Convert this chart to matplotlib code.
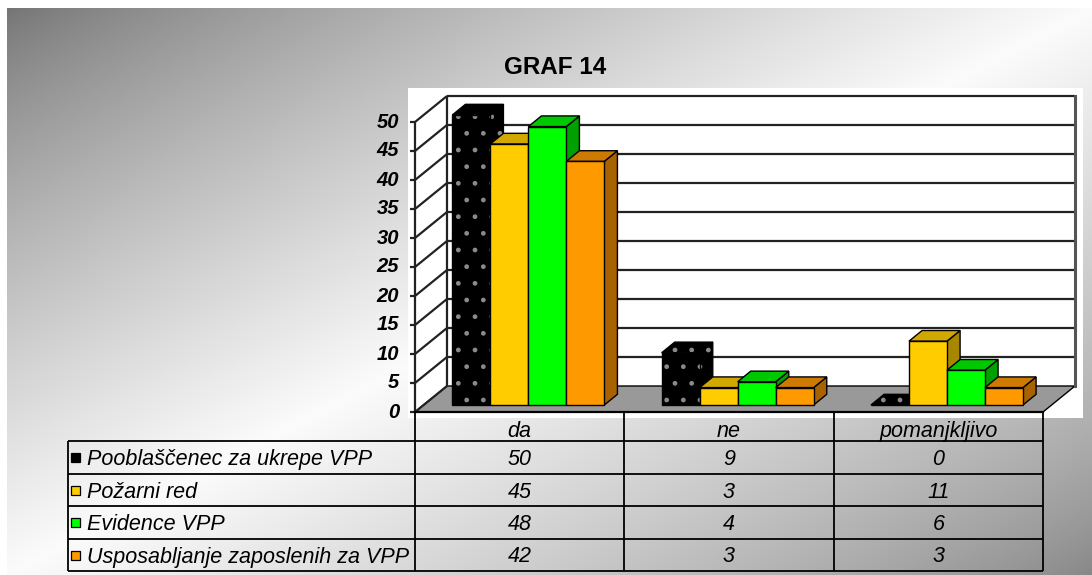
import numpy as np
import matplotlib.pyplot as plt
from matplotlib.patches import Polygon, Rectangle
from matplotlib.transforms import blended_transform_factory

plt.rcParams['font.family'] = ['Liberation Sans', 'DejaVu Sans']

# data
title = "GRAF 14"
categories = ["da", "ne", "pomanjkljivo"]
series_names = ["Pooblaščenec za ukrepe VPP", "Požarni red", "Evidence VPP",
                "Usposabljanje zaposlenih za VPP"]
pooblascenec = [50, 9, 0]
pozarni_red = [45, 3, 11]
evidence = [48, 4, 6]
usposabljanje = [42, 3, 3]
values = [pooblascenec, pozarni_red, evidence, usposabljanje]
y_ticks = list(range(0, 55, 5))

# face colours: front, top, side
front_cols = ["#000000", "#FFCC00", "#00FF00", "#FF9900"]
top_cols = ["#000000", "#D1A800", "#00C800", "#CC7A00"]
side_cols = ["#000000", "#A88700", "#00A000", "#A86200"]

W, H = 1092, 575
fig = plt.figure(figsize=(W / 100, H / 100), dpi=100)

# background layer in pixel coordinates
bg = fig.add_axes([0, 0, 1, 1])
bg.set_xlim(0, W)
bg.set_ylim(H, 0)
bg.axis("off")

gx, gy = np.meshgrid(np.linspace(0, 1, 500), np.linspace(0, 1, 300))
t = (gx + gy) / 2
shade = np.where(t < 0.5,
                 0.455 + (0.985 - 0.455) * (2 * t) ** 0.8,
                 0.53 + (0.985 - 0.53) * (2 - 2 * t) ** 0.8)
bg.imshow(np.dstack([shade] * 3), extent=[7, W, H, 8], aspect="auto",
          interpolation="bilinear", zorder=0)
bg.add_patch(Rectangle((408, 88), 675, 330, facecolor="white", edgecolor="none", zorder=1))

bg.text(555, 67, title, ha="center", va="center", fontsize=17.5, fontweight="bold")

# chart layer: x in category units, y in value units
X0, SX = 415, 209.33   # pixel of category 0, pixels per category
Y0, SY = 412, 5.8      # pixel row of value 0, pixels per unit
ax = fig.add_axes([0, 0, 1, 1])
ax.set_xlim(-X0 / SX, (W - X0) / SX)
ax.set_ylim(-(H - Y0) / SY, Y0 / SY)
ax.axis("off")
ax.patch.set_visible(False)

DX, DY = 32 / SX, 26 / SY   # depth offset of the back wall
ncat = len(categories)
vmax = y_ticks[-1]


def P(x, v, d):
    return (x + d * DX, v + d * DY)


line_kw = dict(color="#222222", lw=1.6, solid_capstyle="butt", zorder=1)

# floor
ax.add_patch(Polygon([P(0, 0, 0), P(ncat, 0, 0), P(ncat, 0, 1), P(0, 0, 1)],
                     closed=True, facecolor="#999999", edgecolor="black", lw=1.0,
                     zorder=0.5))

# back wall grid, side wall lines, axis
for v in y_ticks:
    if v > 0:
        ax.plot(*zip(P(0, v, 1), P(ncat, v, 1)), **line_kw)
    ax.plot(*zip(P(0, v, 0), P(0, v, 1)), **line_kw)
    ax.plot([-5 / SX, 0], [v, v], **line_kw)
    ax.text(-16 / SX, v, str(v), ha="right", va="center", fontsize=14.5,
            fontweight="bold", style="italic")
ax.plot(*zip(P(0, 0, 1), P(0, vmax, 1)), **line_kw)
ax.plot(*zip(P(ncat, 0, 1), P(ncat, vmax, 1)), color="#555555", lw=2.2, zorder=1)
ax.plot(*zip(P(0, 0, 0), P(0, vmax, 0)), **line_kw)
ax.plot([0, ncat], [0, 0], color="black", lw=1.6, zorder=1)

# 3D bars
bw = 38 / SX
d0, d1 = 0.27, 0.68
start = (1 - len(values) * bw) / 2
for i in range(ncat):
    for j, vals in enumerate(values):
        v = vals[i]
        x0 = i + start + j * bw
        x1 = x0 + bw
        faces = [
            ([P(x1, 0, d0), P(x1, 0, d1), P(x1, v, d1), P(x1, v, d0)], side_cols[j]),
            ([P(x0, v, d0), P(x1, v, d0), P(x1, v, d1), P(x0, v, d1)], top_cols[j]),
            ([P(x0, 0, d0), P(x1, 0, d0), P(x1, v, d0), P(x0, v, d0)], front_cols[j]),
        ]
        for pts, col in faces:
            if j == 0:
                ax.add_patch(Polygon(pts, closed=True, facecolor=col,
                                     edgecolor="#8a8a8a", hatch=".", lw=0, zorder=3))
                ax.add_patch(Polygon(pts, closed=True, fill=False,
                                     edgecolor="black", lw=1.0, zorder=3))
            else:
                ax.add_patch(Polygon(pts, closed=True, facecolor=col,
                                     edgecolor="black", lw=1.0, zorder=3))

# data table
tr = blended_transform_factory(ax.transData, bg.transData)
head_top, head_bot = 412, 441
row_h = 32.5
nrows = len(series_names)
tab_left = (68 - X0) / SX
tab_bot = head_bot + nrows * row_h
tkw = dict(color="black", lw=1.3, transform=tr, solid_capstyle="butt", zorder=4)

for k in range(ncat + 1):
    ax.plot([k, k], [head_top, tab_bot], **tkw)
ax.plot([tab_left, tab_left], [head_bot, tab_bot], **tkw)
for r in range(nrows + 1):
    y = head_bot + r * row_h
    ax.plot([tab_left, ncat], [y, y], **tkw)

for i, cat in enumerate(categories):
    ax.text(i + 0.5, head_top + 25, cat, ha="center", va="baseline",
            fontsize=15.5, style="italic", transform=tr)

for j, name in enumerate(series_names):
    ytop = head_bot + j * row_h
    bg.add_patch(Rectangle((71, ytop + 12), 9, 9, facecolor=front_cols[j],
                           edgecolor="black", lw=0.9, zorder=3))
    bg.text(87, ytop + 24, name, ha="left", va="baseline", fontsize=15.5,
            style="italic", zorder=3)
    for i in range(ncat):
        ax.text(i + 0.5, ytop + 24, str(values[j][i]), ha="center",
                va="baseline", fontsize=15.5, style="italic", transform=tr)

fig.savefig("out.png", dpi=100)
